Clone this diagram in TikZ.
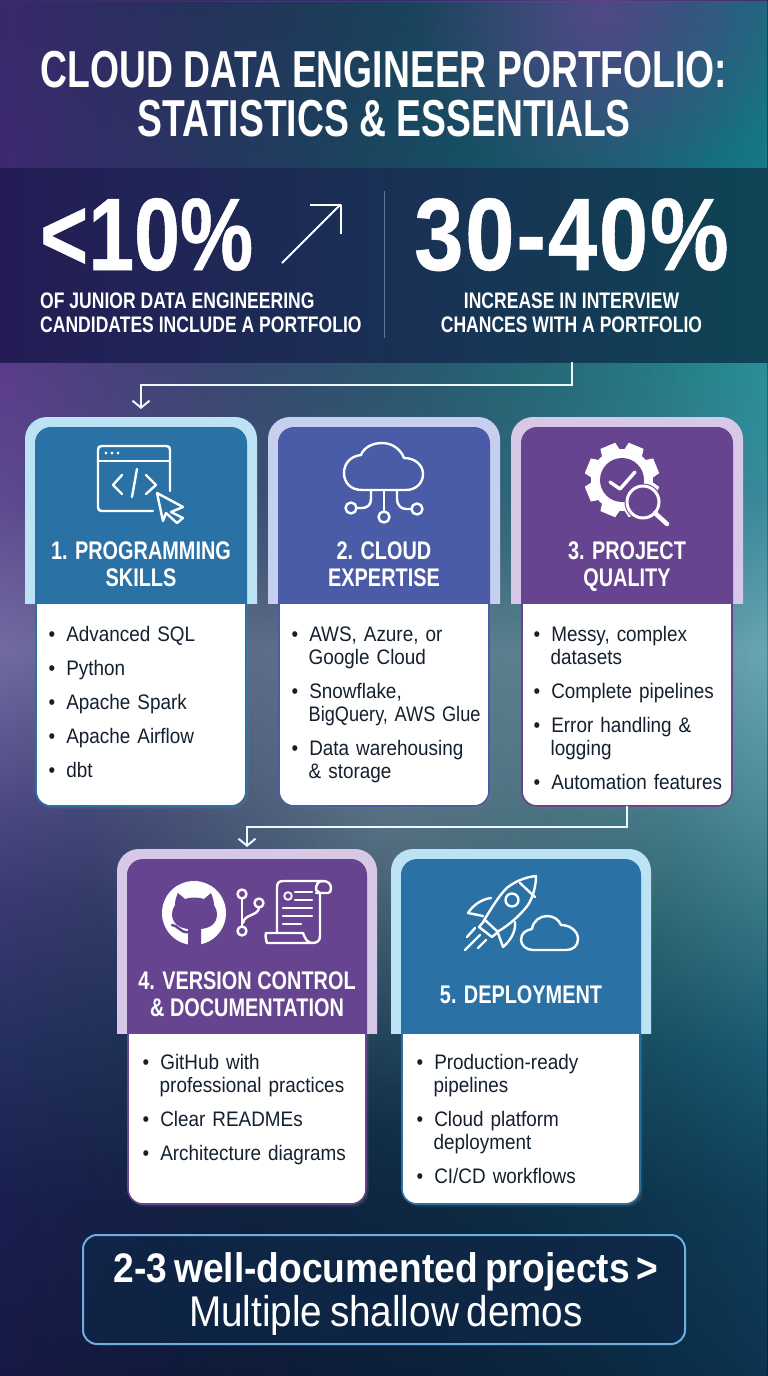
\documentclass[tikz,border=0pt]{standalone}
\usepackage{fontspec}
\usepackage{xcolor}
\usepackage{tikz}
\usetikzlibrary{calc,shapes,positioning,shadows,fadings,arrows.meta}
\setmainfont{Liberation Sans}[FakeStretch=0.90,WordSpace=0.7]
\newfontfamily\headfont{Liberation Sans}[FakeStretch=0.78]
\newfontfamily\titlefont{Liberation Sans}[FakeStretch=0.717]
\newfontfamily\numfont{Liberation Sans}[FakeStretch=0.80,BoldFont={Liberation Sans Bold},BoldFeatures={FakeBold=0.5}]
\newfontfamily\numwidefont{Liberation Sans}[FakeStretch=0.86,BoldFont={Liberation Sans Bold},BoldFeatures={FakeBold=0.5,LetterSpace=1.8}]

\definecolor{bandleft}{HTML}{241C55}
\definecolor{bandmid}{HTML}{15305C}
\definecolor{bandright}{HTML}{0F4455}
\definecolor{bluetone}{HTML}{2A71A6}
\definecolor{bluetonelight}{HTML}{BCE3F3}
\definecolor{indigotone}{HTML}{4A5CA8}
\definecolor{indigotonelight}{HTML}{C6CFEE}
\definecolor{purpletone}{HTML}{66448F}
\definecolor{purpletonelight}{HTML}{D6C8E6}
\definecolor{bodyink}{HTML}{14202E}
\definecolor{calloutline}{HTML}{6FAEE0}
\definecolor{calloutfill}{HTML}{0E2747}
\definecolor{dividerline}{HTML}{587A90}

\definecolor{la}{HTML}{181A45}\definecolor{lb}{HTML}{1A2050}\definecolor{lc}{HTML}{25305F}
\definecolor{ld}{HTML}{3A3A72}\definecolor{le}{HTML}{4E4A85}\definecolor{lf}{HTML}{746CA2}
\definecolor{lg}{HTML}{5F4A90}\definecolor{lh}{HTML}{5C3D8C}\definecolor{li}{HTML}{3F2A72}
\definecolor{lj}{HTML}{3A2A6C}
\definecolor{ra}{HTML}{0D3350}\definecolor{rb}{HTML}{103F5A}\definecolor{rc}{HTML}{1A5A72}
\definecolor{rd}{HTML}{3A7A88}\definecolor{re}{HTML}{4F8D9C}\definecolor{rf}{HTML}{6AA6B4}
\definecolor{rg}{HTML}{3A8C9E}\definecolor{rh}{HTML}{2A8F98}\definecolor{ri}{HTML}{167A88}
\definecolor{rj}{HTML}{1A6C80}

\pgfdeclareverticalshading{bgleft}{100bp}{
  color(0bp)=(la); color(25bp)=(la); color(31.4bp)=(lb); color(36.85bp)=(lc); color(42.3bp)=(ld);
  color(45.93bp)=(le); color(51.38bp)=(lf); color(56.83bp)=(lg); color(61.85bp)=(lh);
  color(68.82bp)=(li); color(75bp)=(lj); color(100bp)=(lj)}
\pgfdeclareverticalshading{bgright}{100bp}{
  color(0bp)=(ra); color(25bp)=(ra); color(31.4bp)=(rb); color(36.85bp)=(rc); color(42.3bp)=(rd);
  color(45.93bp)=(re); color(51.38bp)=(rf); color(56.83bp)=(rg); color(61.85bp)=(rh);
  color(68.82bp)=(ri); color(75bp)=(rj); color(100bp)=(rj)}
\tikzfading[name=glowfade, inner color=transparent!0, outer color=transparent!100]

\tikzset{
  flowline/.style={draw=white!92!cyan, line width=2pt, -{Straight Barb[length=7pt,width=17pt]}},
  titletext/.style={anchor=base, text=white, inner sep=0pt, font=\titlefont\bfseries\fontsize{52}{52}\selectfont},
  statnum/.style={anchor=base, text=white, inner sep=0pt, font=\numfont\bfseries\fontsize{103}{103}\selectfont},
  statcap/.style={anchor=base, text=white, inner sep=0pt, font=\headfont\bfseries\fontsize{22.5}{22.5}\selectfont},
  cardhead/.style={anchor=base, text=white, inner sep=0pt, font=\headfont\bfseries\fontsize{25.5}{25.5}\selectfont},
  cardlist/.style={anchor=north west, inner sep=0pt, text=bodyink, font=\fontsize{21}{23}\selectfont},
  boxbase/.style={rectangle, inner sep=0pt, outer sep=0pt},
  iconline/.style={draw=white, line width=2.4pt, line cap=round, line join=round},
}

% name, centre x, outer width, top y, head bottom y, body bottom y, tone
\newcommand{\cardbox}[7]{%
  \node[boxbase, fill=white, draw=#7, line width=1.6pt, rounded corners=15pt,
    drop shadow={opacity=0.2}, anchor=south, minimum width=#3pt-22pt, minimum height=#6pt-#5pt+30pt]
    (#1body) at (#2,#6) {};
  \begin{scope}
    \clip ({#2-#3/2-1},{#4-1}) rectangle ({#2+#3/2+1},#5);
    \node[boxbase, fill=#7light, rounded corners=22pt, anchor=north, minimum width=#3pt, minimum height=#5pt-#4pt+40pt]
      (#1frame) at (#2,#4) {};
    \node[boxbase, fill=#7, rounded corners=16pt, anchor=north, minimum width=#3pt-20pt, minimum height=#5pt-#4pt+30pt]
      (#1top) at (#2,#4+10) {};
  \end{scope}}

% items of a card, one \item per bullet
\newenvironment{carditems}{\begin{list}{\textbullet}{\setlength{\leftmargin}{15.5pt}\setlength{\labelwidth}{6pt}\setlength{\labelsep}{11pt}\setlength{\itemsep}{11pt}\setlength{\parsep}{0pt}\setlength{\topsep}{0pt}\setlength{\partopsep}{0pt}\setlength{\parskip}{0pt}}}{\end{list}}

\begin{document}
\begin{tikzpicture}[x=1pt,y=-1pt]
\useasboundingbox (0,0) rectangle (768,1376);

% background
\fill[shading=bgleft] (0,0) rectangle (768,1376);
\fill[shading=bgright, path fading=west] (0,0) rectangle (768,1376);
\fill[white, opacity=0.16, path fading=glowfade] (384,830) circle (300pt);
\fill[purpletone, opacity=0.75, path fading=glowfade] (600,10) circle (190pt);

% statistics band
\node[boxbase, left color=bandleft, middle color=bandmid, right color=bandright, anchor=north west,
  minimum width=768pt, minimum height=194pt] (statband) at (0,168) {};
\draw[dividerline, line width=1.2pt] (384.5,191) -- (384.5,338);

% title
\node[titletext] (titleone) at (384,87) {CLOUD DATA ENGINEER PORTFOLIO:};
\node[titletext] (titletwo) at (384,136) {STATISTICS \& ESSENTIALS};

% stats
\node[statnum, anchor=base west] (statone) at (40,270) {<10\%};
\draw[iconline, line width=2pt, line cap=butt] (282,263) -- (340,205);
\draw[iconline, line width=2pt, line cap=butt] (310,204.5) -- (340.5,204.5) -- (340.5,234);
\node[statnum, font=\numwidefont\bfseries\fontsize{103}{103}\selectfont] (stattwo) at (571.5,270) {30-40\%};
\node[statcap, anchor=base west] (capone) at (40,308) {OF JUNIOR DATA ENGINEERING};
\node[statcap, anchor=base west] (caponeb) at (40,332) {CANDIDATES INCLUDE A PORTFOLIO};
\node[statcap] (captwo) at (571.5,308) {INCREASE IN INTERVIEW};
\node[statcap] (captwob) at (571.5,332) {CHANCES WITH A PORTFOLIO};

% cards
\cardbox{prog}{141}{232}{417}{603}{806}{bluetone}
\cardbox{cloud}{384}{232}{417}{603}{806}{indigotone}
\cardbox{quality}{627}{232}{417}{603}{806}{purpletone}
\cardbox{version}{247}{260}{849}{1033}{1204}{purpletone}
\cardbox{deploy}{521}{260}{849}{1033}{1204}{bluetone}

% connectors
\draw[flowline, shorten >=8pt] (statband.south -| stattwo) -- ++(0,23) -| (progframe.north);
\draw[flowline, shorten >=2pt] (qualitybody.south) -- ++(0,21) -| (versionframe.north);

% card headings
\node[cardhead] (proghead) at (141,559) {1. PROGRAMMING};
\node[cardhead] (progheadb) at (141,586) {SKILLS};
\node[cardhead] (cloudhead) at (384,559) {2. CLOUD};
\node[cardhead] (cloudheadb) at (384,586) {EXPERTISE};
\node[cardhead] (qualityhead) at (627,559) {3. PROJECT};
\node[cardhead] (qualityheadb) at (627,586) {QUALITY};
\node[cardhead] (versionhead) at (247,989) {4. VERSION CONTROL};
\node[cardhead] (versionheadb) at (247,1016) {\& DOCUMENTATION};
\node[cardhead] (deployhead) at (521,1003) {5. DEPLOYMENT};

% card lists
\node[cardlist, text width=205pt] (proglist) at (50,618) {\begin{carditems}
  \item Advanced SQL
  \item Python
  \item Apache Spark
  \item Apache Airflow
  \item dbt
\end{carditems}};
\node[cardlist, text width=205pt] (cloudlist) at (293,618) {\begin{carditems}
  \item AWS, Azure, or\\Google Cloud
  \item Snowflake,\\\scalebox{0.96}[1]{BigQuery, AWS Glue}
  \item Data warehousing\\\& storage
\end{carditems}};
\node[cardlist, text width=205pt] (qualitylist) at (535,618) {\begin{carditems}
  \item Messy, complex\\datasets
  \item Complete pipelines
  \item Error handling \&\\logging
  \item Automation features
\end{carditems}};
\node[cardlist, text width=225pt] (versionlist) at (144,1046) {\begin{carditems}
  \item GitHub with\\professional practices
  \item Clear READMEs
  \item Architecture diagrams
\end{carditems}};
\node[cardlist, text width=225pt] (deploylist) at (418,1046) {\begin{carditems}
  \item Production-ready\\pipelines
  \item Cloud platform\\deployment
  \item CI/CD workflows
\end{carditems}};

% icon: code window
\draw[iconline] (170,491) -- (170,450) .. controls (170,447) and (169,446) .. (166,446) -- (102,446)
  .. controls (99,446) and (98,447) .. (98,450) -- (98,507) .. controls (98,510) and (99,511) .. (102,511) -- (153,511);
\draw[iconline] (98,461) -- (170,461);
\foreach \dotx in {106,112,118} \fill[white] (\dotx,453) circle (1.7pt);
\draw[iconline] (122,475) -- (113,485) -- (122,494);
\draw[iconline] (137,469) -- (132,497);
\draw[iconline] (146,475) -- (156,485) -- (146,494);
\draw[iconline] (157,493) -- (183,507) -- (171,512) -- (183,518) -- (177,523) -- (166,513) -- (163,521) -- cycle;

% icon: cloud network
\draw[iconline] (362,490) .. controls (350,490) and (344,482) .. (344,473) .. controls (344,463) and (351,456) .. (361,455)
  .. controls (364,447) and (373,443) .. (382,443) .. controls (393,443) and (401,450) .. (404,458)
  .. controls (415,458) and (423,465) .. (423,474) .. controls (423,483) and (416,490) .. (406,490) -- cycle;
\draw[iconline] (384,490) -- (384,511);
\draw[iconline] (371,490) -- (371,499) .. controls (371,505) and (367,508) .. (362,508) -- (357,508);
\draw[iconline] (397,490) -- (397,499) .. controls (397,505) and (401,509) .. (406,509) -- (411,509);
\foreach \nx/\ny in {351/508,384/517,417/509} \draw[iconline] (\nx,\ny) circle (5.5pt);

% icon: gear and magnifier
\foreach \toothang in {0,45,...,315}
  \fill[white, rotate around={\toothang+22.5:(622,480)}] (614,443) -- (630,443) -- (633,458) -- (611,458) -- cycle;
\fill[white] (622,480) circle (31pt);
\fill[purpletone] (622,480) circle (22pt);
\draw[iconline, line width=3.4pt] (610,482) -- (620,489) -- (635,472);
\draw[purpletone, fill=purpletone, line width=5pt] (643,502) circle (16pt);
\draw[iconline, line width=3pt] (643,502) circle (16pt);
\draw[iconline, line width=4.5pt] (655,513) -- (667,524);

% icon: github, branch and scroll
\fill[white] (194,913) circle (32pt);
\fill[purpletone] (178,893) -- (185,899) .. controls (190,897) and (198,897) .. (204,899) -- (211,893)
  .. controls (213,898) and (214,902) .. (214,905) .. controls (216,908) and (217,911) .. (217,914)
  .. controls (217,924) and (210,928) .. (201,929) -- (201,946) -- (188,946) -- (188,929)
  .. controls (179,928) and (172,923) .. (172,914) .. controls (172,911) and (173,908) .. (175,905)
  .. controls (175,901) and (176,897) .. (178,893) -- cycle;
\draw[purpletone, line width=2.5pt, line cap=round] (172,925) .. controls (178,925) and (180,933) .. (188,932);
\foreach \nx/\ny in {242/894,259/903,242/931} \draw[iconline] (\nx,\ny) circle (4.5pt);
\draw[iconline] (242,899) -- (242,926);
\draw[iconline] (259,908) .. controls (258,916) and (244,914) .. (243,923);
\draw[iconline] (277,933) -- (277,887) .. controls (277,883) and (279,881) .. (283,881) -- (323,881)
  .. controls (328,881) and (331,884) .. (331,888) .. controls (331,891) and (330,893) .. (328,893) -- (316,893);
\draw[iconline] (323,881) .. controls (318,881) and (316,884) .. (316,890) -- (320,893) -- (320,936)
  .. controls (320,941) and (317,943) .. (312,943);
\draw[iconline] (266,933) -- (303,933) .. controls (305,938) and (307,943) .. (312,943) -- (267,943)
  .. controls (266,940) and (265,936) .. (266,933) -- cycle;
\draw[iconline, line width=1.8pt] (288,896) circle (3.8pt);
\foreach \lx/\ly/\lxb in {295/892/312,295/900/312,283/908/312,283/916/312,283/924/301}
  \draw[iconline] (\lx,\ly) -- (\lxb,\ly);

% icon: rocket and cloud
\draw[iconline] (483,922) .. controls (495,902) and (502,892) .. (508,887) .. controls (516,881) and (526,877) .. (536,876)
  .. controls (536,886) and (533,897) .. (528,905) .. controls (522,913) and (510,925) .. (497,932);
\draw[iconline] (520,883) -- (535,897);
\draw[iconline] (512,900) circle (6.5pt);
\draw[iconline] (479,927) -- (485,920) -- (498,932) -- (492,937) -- cycle;
\draw[iconline] (491,898) .. controls (482,899) and (473,905) .. (468,913) -- (483,916);
\draw[iconline] (515,922) .. controls (516,932) and (510,941) .. (503,947) -- (498,933);
\draw[iconline] (475,928) -- (467,937);
\draw[iconline] (480,935) -- (465,950);
\draw[iconline] (486,940) -- (478,948);
\draw[iconline] (533,950) .. controls (526,950) and (521,945) .. (521,940) .. controls (521,933) and (526,930) .. (532,929)
  .. controls (533,921) and (540,916) .. (547,916) .. controls (554,916) and (559,920) .. (561,925)
  .. controls (570,925) and (578,931) .. (578,939) .. controls (578,946) and (573,950) .. (566,950) -- cycle;

% callout
\node[boxbase, draw=calloutline, fill=calloutfill, fill opacity=0.75, line width=2pt, rounded corners=14pt,
  anchor=north west, minimum width=602pt, minimum height=109pt] (callout) at (83,1235) {};
\node[anchor=base, inner sep=0pt, text=white, font=\bfseries\fontsize{41.3}{41.3}\selectfont] (calloutone) at (386,1282) {2-3 well-documented projects >};
\node[anchor=base, inner sep=0pt, text=white, font=\fontsize{43}{43}\selectfont] (callouttwo) at (386,1326) {Multiple shallow demos};
\end{tikzpicture}
\end{document}
